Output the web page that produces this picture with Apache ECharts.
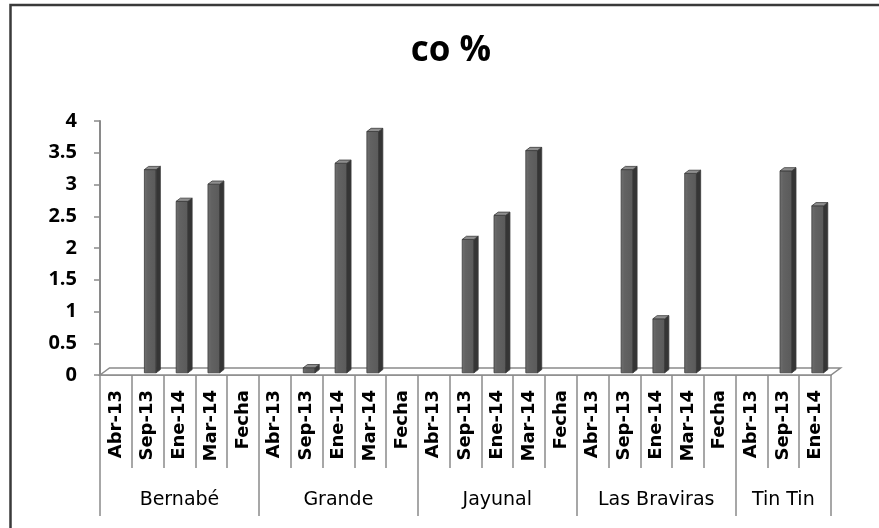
<!DOCTYPE html>
<html>
<head>
<meta charset="utf-8">
<script src="https://cdn.jsdelivr.net/npm/echarts@6/dist/echarts.min.js"></script>
<style>
  html, body { margin: 0; padding: 0; background: #ffffff; }
  #chart { width: 879px; height: 528px; }
</style>
</head>
<body>
<div id="chart"></div>
<script>
// Sites and the sampling dates measured at each one
const groups = ['Bernabé', 'Grande', 'Jayunal', 'Las Braviras', 'Tin Tin'];
const groupSizes = [5, 5, 5, 5, 3];
const periods = ['Abr-13', 'Sep-13', 'Ene-14', 'Mar-14', 'Fecha'];

// CO % per site and date (null = no measurement)
const coBernabe = [null, 3.2, 2.7, 2.97, null];
const coGrande = [null, 0.08, 3.3, 3.8, null];
const coJayunal = [null, 2.1, 2.48, 3.5, null];
const coBraviras = [null, 3.2, 0.85, 3.14, null];
const coTinTin = [null, 3.18, 2.63];

// Value axis range
const yMin = 0, yMax = 4, yStep = 0.5;

const coValues = [].concat(coBernabe, coGrande, coJayunal, coBraviras, coTinTin);

// Flat category list plus a parallel list carrying the site name at each group's centre
const categories = [];
const groupLabels = [];
const groupStarts = [];
groups.forEach((g, gi) => {
  groupStarts.push(categories.length);
  const n = groupSizes[gi];
  for (let k = 0; k < n; k++) {
    categories.push(periods[k]);
    groupLabels.push(k === Math.floor(n / 2) ? g : '');
  }
});

// pseudo-3D geometry (pixels)
const FRONT_DX = 2.6, FRONT_DY = -2.2;   // bar front plane inside the floor
const DEPTH_DX = 4.2, DEPTH_DY = -3.2;   // bar depth
const FLOOR_DX = 9.5, FLOOR_DY = -7;     // floor depth

function renderBar(params, api) {
  const v = api.value(1);
  if (v == null || isNaN(v)) return;
  const idx = api.value(0);
  const base = api.coord([idx, 0]);
  const top = api.coord([idx, v]);
  const band = api.size([1, 0])[0];
  const w = band * 0.37;
  const x0 = base[0] - w / 2 + FRONT_DX;
  const yb = base[1] + FRONT_DY;
  const yt = top[1] + FRONT_DY;
  const stroke = '#3a3a3a';
  return {
    type: 'group',
    children: [
      {
        type: 'rect',
        shape: { x: x0, y: yt, width: w, height: yb - yt },
        style: {
          fill: new echarts.graphic.LinearGradient(0, 0, 1, 0, [
            { offset: 0, color: '#707070' },
            { offset: 0.3, color: '#626262' },
            { offset: 1, color: '#5a5a5a' }
          ]),
          stroke: stroke, lineWidth: 0.8
        }
      },
      {
        type: 'polygon',
        shape: { points: [[x0 + w, yt], [x0 + w + DEPTH_DX, yt + DEPTH_DY], [x0 + w + DEPTH_DX, yb + DEPTH_DY], [x0 + w, yb]] },
        style: { fill: '#353535', stroke: stroke, lineWidth: 0.8 }
      },
      {
        type: 'polygon',
        shape: { points: [[x0, yt], [x0 + DEPTH_DX, yt + DEPTH_DY], [x0 + w + DEPTH_DX, yt + DEPTH_DY], [x0 + w, yt]] },
        style: { fill: '#8e8e8e', stroke: stroke, lineWidth: 0.8 }
      }
    ]
  };
}

function renderFloor(params, api) {
  const band = api.size([1, 0])[0];
  const a = api.coord([0, 0]);
  const b = api.coord([categories.length - 1, 0]);
  const left = a[0] - band / 2, right = b[0] + band / 2, y = a[1];
  return {
    type: 'polygon',
    shape: { points: [[left, y], [left + FLOOR_DX, y + FLOOR_DY], [right + FLOOR_DX, y + FLOOR_DY], [right, y]] },
    style: { fill: '#ffffff', stroke: '#8a8a8a', lineWidth: 1.5 }
  };
}

const chart = echarts.init(document.getElementById('chart'), null, { renderer: 'canvas' });

chart.setOption({
  backgroundColor: '#ffffff',
  animation: false,
  title: {
    text: 'co %',
    left: 446,
    top: 29,
    textAlign: 'center',
    textStyle: { fontFamily: 'Open Sans', fontWeight: 'bold', fontSize: 35, color: '#000' }
  },
  graphic: [{
    type: 'rect',
    shape: { x: 10.5, y: 5, width: 1000, height: 1000 },
    style: { fill: 'none', stroke: '#3a3a3a', lineWidth: 2.5 },
    silent: true
  }],
  grid: { left: 100, right: 48, top: 121, bottom: 153, containLabel: false },
  xAxis: [
    {
      type: 'category',
      data: categories,
      position: 'bottom',
      boundaryGap: true,
      axisLine: { show: true, lineStyle: { color: '#8a8a8a', width: 1.5 } },
      axisTick: { show: true, interval: 0, length: 93, lineStyle: { color: '#8a8a8a', width: 1.5 } },
      axisLabel: {
        interval: 0, rotate: 90, margin: 15,
        fontFamily: 'DejaVu Sans', fontWeight: 'bold', fontSize: 18, color: '#000'
      },
      splitLine: { show: false }
    },
    {
      type: 'category',
      data: groupLabels,
      position: 'bottom',
      boundaryGap: true,
      axisLine: { show: false },
      axisTick: {
        show: true,
        length: 141,
        interval: (i) => groupStarts.indexOf(i) !== -1,
        lineStyle: { color: '#8a8a8a', width: 1.5 }
      },
      axisLabel: {
        interval: 0, margin: 116,
        fontFamily: 'DejaVu Sans', fontSize: 19, color: '#000'
      },
      splitLine: { show: false }
    }
  ],
  yAxis: {
    type: 'value',
    min: yMin, max: yMax, interval: yStep,
    axisLine: { show: true, lineStyle: { color: '#8a8a8a', width: 2 } },
    axisTick: { show: true, length: 6, lineStyle: { color: '#8a8a8a', width: 1.5 } },
    axisLabel: { margin: 23, fontFamily: 'Open Sans', fontWeight: 'bold', fontSize: 20, color: '#000' },
    splitLine: { show: false }
  },
  series: [
    {
      type: 'custom',
      name: 'floor',
      xAxisIndex: 0,
      clip: false,
      silent: true,
      z: 1,
      renderItem: renderFloor,
      data: [[0, 0]]
    },
    {
      type: 'custom',
      name: 'co %',
      xAxisIndex: 0,
      clip: false,
      z: 3,
      renderItem: renderBar,
      encode: { x: 0, y: 1 },
      data: coValues.map((v, i) => [i, v])
    }
  ]
});
</script>
</body>
</html>
